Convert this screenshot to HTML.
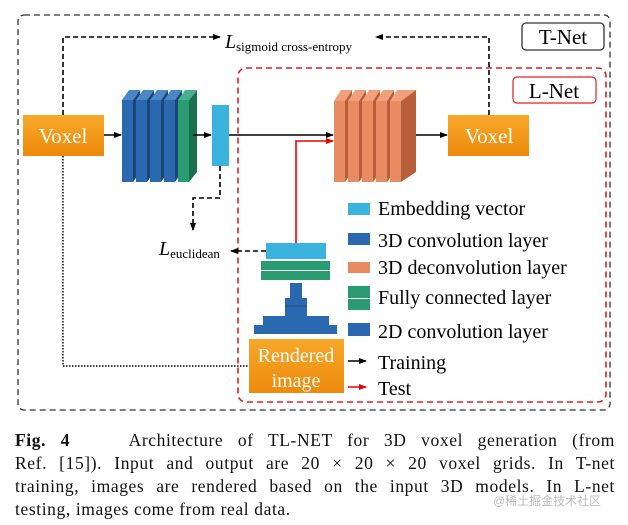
<!DOCTYPE html>
<html><head><meta charset="utf-8"><style>
body{margin:0;background:#fff;width:628px;height:525px;overflow:hidden;position:relative;font-family:"Liberation Serif",serif}
.cl{position:absolute;left:15px;width:600px;font-size:17.5px;letter-spacing:0.6px;height:23px;line-height:23px;text-align:justify;text-align-last:justify;color:#111;white-space:nowrap}
</style></head><body>
<svg width="628" height="425" style="position:absolute;left:0;top:0" font-family="Liberation Serif, serif">
<defs>
<marker id="ab" markerWidth="8" markerHeight="8" refX="7" refY="4" orient="auto" markerUnits="userSpaceOnUse"><path d="M0,1 L8,4 L0,7z" fill="#000"/></marker>
<marker id="ar" markerWidth="8" markerHeight="8" refX="7" refY="4" orient="auto" markerUnits="userSpaceOnUse"><path d="M0,1 L8,4 L0,7z" fill="#e00"/></marker>
<linearGradient id="og" x1="0" y1="0" x2="0" y2="1"><stop offset="0" stop-color="#f7a82a"/><stop offset="1" stop-color="#ee8a0c"/></linearGradient>
</defs>
<rect x="18" y="15" width="592" height="395" rx="6" fill="none" stroke="#333" stroke-width="1.3" stroke-dasharray="6,4"/>
<rect x="522" y="23" width="82" height="27" rx="4" fill="#fff" stroke="#333" stroke-width="1.3"/>
<text x="563" y="44" font-size="21" text-anchor="middle">T-Net</text>
<rect x="238" y="68" width="368" height="334" rx="8" fill="none" stroke="#e02020" stroke-width="1.6" stroke-dasharray="6,4"/>
<rect x="513" y="77" width="83" height="26" rx="4" fill="#fff" stroke="#e02020" stroke-width="1.2"/>
<text x="554" y="98" font-size="21" text-anchor="middle">L-Net</text>
<polyline points="63,115 63,37 220,37" fill="none" stroke="#000" stroke-width="1.6" stroke-dasharray="5,3" marker-end="url(#ab)"/>
<polyline points="489,115 489,37 376,37" fill="none" stroke="#000" stroke-width="1.6" stroke-dasharray="5,3" marker-end="url(#ab)"/>
<text x="225" y="48" font-size="20" font-style="italic">L<tspan font-size="13" font-style="normal" dy="3">sigmoid cross-entropy</tspan></text>
<rect x="23" y="115" width="81" height="41" fill="url(#og)"/>
<text x="63" y="143" font-size="21" fill="#fff" text-anchor="middle">Voxel</text>
<rect x="448" y="115" width="81" height="41" fill="url(#og)"/>
<text x="489" y="143" font-size="21" fill="#fff" text-anchor="middle">Voxel</text>
<g>
<polygon points="133,100 140,90 140,172 133,182" fill="#1a4577"/><polygon points="122,100 129,90 140,90 133,100" fill="#4a86c8"/><rect x="122" y="100" width="11" height="82" fill="#2a68b0"/>
<polygon points="147,100 154,90 154,172 147,182" fill="#1a4577"/><polygon points="136,100 143,90 154,90 147,100" fill="#4a86c8"/><rect x="136" y="100" width="11" height="82" fill="#2a68b0"/>
<polygon points="161,100 168,90 168,172 161,182" fill="#1a4577"/><polygon points="150,100 157,90 168,90 161,100" fill="#4a86c8"/><rect x="150" y="100" width="11" height="82" fill="#2a68b0"/>
<polygon points="175,100 182,90 182,172 175,182" fill="#1a4577"/><polygon points="164,100 171,90 182,90 175,100" fill="#4a86c8"/><rect x="164" y="100" width="11" height="82" fill="#2a68b0"/>
<polygon points="189,100 197,90 197,172 189,182" fill="#1b7050"/><polygon points="178,100 185,90 197,90 189,100" fill="#46b08a"/><rect x="178" y="100" width="11" height="82" fill="#2a9a70"/>
</g>
<rect x="212" y="105" width="17" height="61" fill="#3ab4de"/>
<g>
<polygon points="345,101 352,90 352,172 345,182" fill="#b85e3a"/><polygon points="334,101 341,90 352,90 345,101" fill="#f0a07a"/><rect x="334" y="101" width="11" height="81" fill="#e88a62"/>
<polygon points="359,101 366,90 366,172 359,182" fill="#b85e3a"/><polygon points="348,101 355,90 366,90 359,101" fill="#f0a07a"/><rect x="348" y="101" width="11" height="81" fill="#e88a62"/>
<polygon points="373,101 380,90 380,172 373,182" fill="#b85e3a"/><polygon points="362,101 369,90 380,90 373,101" fill="#f0a07a"/><rect x="362" y="101" width="11" height="81" fill="#e88a62"/>
<polygon points="387,101 394,90 394,172 387,182" fill="#b85e3a"/><polygon points="376,101 383,90 394,90 387,101" fill="#f0a07a"/><rect x="376" y="101" width="11" height="81" fill="#e88a62"/>
<polygon points="401,101 416,90 416,172 401,182" fill="#b85e3a"/><polygon points="390,101 397,90 416,90 401,101" fill="#f0a07a"/><rect x="390" y="101" width="11" height="81" fill="#e88a62"/>
</g>
<line x1="104" y1="135" x2="121" y2="135" stroke="#000" stroke-width="1.6" marker-end="url(#ab)"/>
<line x1="193" y1="135" x2="211" y2="135" stroke="#000" stroke-width="1.6" marker-end="url(#ab)"/>
<line x1="229" y1="135" x2="333" y2="135" stroke="#000" stroke-width="1.6" marker-end="url(#ab)"/>
<line x1="416" y1="135" x2="447" y2="135" stroke="#000" stroke-width="1.6" marker-end="url(#ab)"/>
<polyline points="296,243 296,141 333,141" fill="none" stroke="#e00" stroke-width="1.6" marker-end="url(#ar)"/>
<polyline points="220,166 220,198 193,198 193,230" fill="none" stroke="#000" stroke-width="1.6" stroke-dasharray="5,3" marker-end="url(#ab)"/>
<line x1="266" y1="251" x2="231" y2="251" stroke="#000" stroke-width="1.6" stroke-dasharray="5,3" marker-end="url(#ab)"/>
<text x="159" y="255" font-size="20" font-style="italic">L<tspan font-size="13" font-style="normal" dy="3">euclidean</tspan></text>
<rect x="266" y="243" width="60" height="16" fill="#3ab4de"/>
<rect x="261" y="261" width="69" height="9" fill="#2a9a70"/>
<rect x="261" y="271" width="69" height="9" fill="#2a9a70"/>
<rect x="290" y="283" width="12" height="15" fill="#2a68b0"/>
<rect x="285" y="298" width="22" height="18" fill="#2a68b0"/>
<line x1="285" y1="306" x2="307" y2="306" stroke="#1a4577" stroke-width="0.8"/>
<rect x="263" y="316" width="66" height="9" fill="#2a68b0"/>
<rect x="254" y="325" width="83" height="9" fill="#2a68b0"/>
<rect x="249" y="339" width="95" height="54" fill="url(#og)"/>
<text x="296" y="362" font-size="20" fill="#fff" text-anchor="middle">Rendered</text>
<text x="296" y="387" font-size="20" fill="#fff" text-anchor="middle">image</text>
<polyline points="63,156 63,366 249,366" fill="none" stroke="#000" stroke-width="1.4" stroke-dasharray="1.5,1.5"/>
<rect x="348" y="203" width="22" height="12" fill="#3ab4de"/>
<rect x="348" y="233" width="22" height="12" fill="#2a68b0"/>
<rect x="348" y="262" width="22" height="11" fill="#e88a62"/>
<rect x="348" y="286" width="22" height="12" fill="#2a9a70"/>
<rect x="348" y="299" width="22" height="11" fill="#2a9a70"/>
<rect x="348" y="323" width="22" height="13" fill="#2a68b0"/>
<g font-size="20">
<text x="378" y="215">Embedding vector</text>
<text x="378" y="247">3D convolution layer</text>
<text x="378" y="274">3D deconvolution layer</text>
<text x="378" y="304">Fully connected layer</text>
<text x="378" y="338">2D convolution layer</text>
<text x="378" y="369">Training</text>
<text x="378" y="395">Test</text>
</g>
<line x1="348" y1="361" x2="366" y2="361" stroke="#000" stroke-width="1.6" marker-end="url(#ab)"/>
<line x1="348" y1="387" x2="366" y2="387" stroke="#e00" stroke-width="1.6" marker-end="url(#ar)"/>
</svg>
<div class="cl" style="top:429px"><b>Fig.&nbsp;4</b>&nbsp;&nbsp;&nbsp;&nbsp;Architecture of TL-NET for 3D voxel generation (from</div>
<div class="cl" style="top:452px">Ref. [15]). Input and output are 20&nbsp;×&nbsp;20&nbsp;×&nbsp;20 voxel grids. In T-net</div>
<div class="cl" style="top:475px">training, images are rendered based on the input 3D models. In L-net</div>
<div class="cl" style="top:498px;text-align-last:left">testing, images come from real data.</div>
<div style="position:absolute;left:493px;top:492px;font-size:12px;color:#bbb;font-family:'Liberation Sans','Noto Sans CJK SC',sans-serif">@稀土掘金技术社区</div>
</body></html>
